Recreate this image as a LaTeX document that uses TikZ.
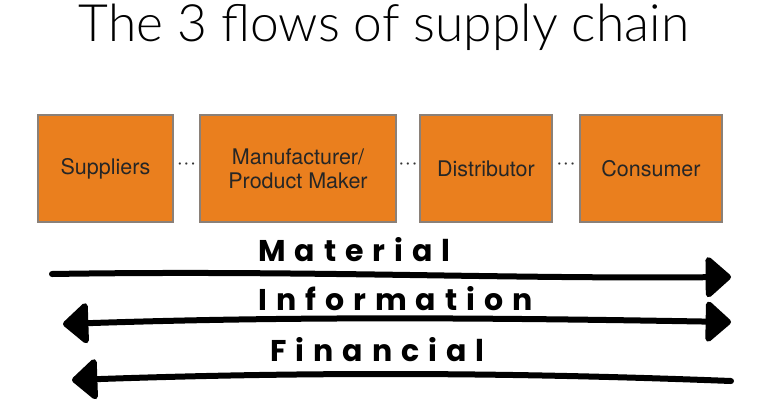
\documentclass[tikz,border=0pt]{standalone}
\usepackage{fontspec}
\setmainfont{TeX Gyre Heros}
\newfontfamily\titlefont{Lato Light}
\newfontfamily\handfont[LetterSpace=30]{Poppins}
\usetikzlibrary{arrows.meta}
\definecolor{boxorange}{HTML}{EA7F1E}
\definecolor{boxborder}{HTML}{8A8078}
\tikzset{
  x=1pt,y=-1pt,
  flowbox/.style={draw=boxborder,line width=1.2pt,fill=boxorange,minimum height=107pt,
    align=center,font=\fontsize{21.5}{24}\selectfont,text=black!85,inner sep=0pt},
  flowline/.style={line width=6pt,line cap=round,
    -{Triangle[length=27pt,width=46pt,round]}},
  flowboth/.style={line width=6pt,line cap=round,
    {Triangle[length=27pt,width=46pt,round]}-{Triangle[length=27pt,width=46pt,round]}},
  flowleft/.style={line width=6pt,line cap=round,
    {Triangle[length=27pt,width=46pt,round]}-},
  hand/.style={font=\handfont\bfseries\fontsize{30}{32}\selectfont,anchor=base west,inner sep=0pt},
  dots/.style={font=\fontsize{22}{22}\selectfont,inner sep=0pt,text=black!80}
}
\begin{document}
\begin{tikzpicture}
\useasboundingbox (0,0) rectangle (768,408);
\node[font=\titlefont\fontsize{51.5}{54}\selectfont,inner sep=0pt,anchor=base] (title) at (384,41) {The 3 flows of supply chain};
\node[flowbox,minimum width=135pt] (sup) at (105.5,168.5) {Suppliers};
\node[flowbox,minimum width=196pt] (man) at (298,168.5) {Manufacturer/\\Product Maker};
\node[flowbox,minimum width=132pt] (dis) at (486,168.5) {Distributor};
\node[flowbox,minimum width=142pt] (con) at (651,168.5) {Consumer};
\node[dots] (d1) at (186.5,166) {·\kern0.5pt·\kern0.5pt·};
\node[dots] (d2) at (408,166) {·\kern0.5pt·\kern0.5pt·};
\node[dots] (d3) at (566,166) {·\kern0.5pt·\kern0.5pt·};
\coordinate (m1) at (52,274);
\coordinate (m2) at (731,277);
\coordinate (i1) at (63,324);
\coordinate (i2) at (731,322);
\coordinate (f1) at (72,380);
\coordinate (f2) at (731,381);
\draw[flowline] (m1) .. controls (300,270) and (500,279) .. (m2);
\draw[flowboth] (i1) .. controls (300,316) and (500,318) .. (i2);
\draw[flowleft] (f1) .. controls (300,372) and (500,372) .. (f2);
\node[hand] (lm) at (258,261) {Material};
\node[hand] (li) at (258,310) {Information};
\node[hand] (lf) at (270,361) {Financial};
\end{tikzpicture}
\end{document}
